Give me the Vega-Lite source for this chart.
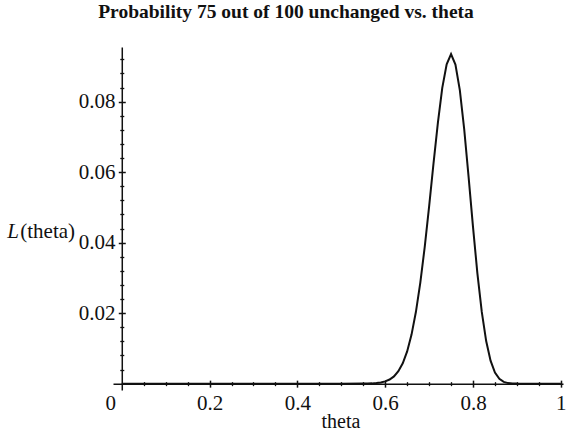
{
  "$schema": "https://vega.github.io/schema/vega-lite/v6.json",
  "autosize": "none",
  "width": 450,
  "height": 343,
  "padding": {"left": 113, "top": 47, "right": 5, "bottom": 44},
  "background": "white",
  "title": {
    "text": "Probability 75 out of 100 unchanged vs. theta",
    "font": "Liberation Serif",
    "fontSize": 19.5,
    "fontWeight": "bold",
    "color": "#111",
    "anchor": "middle",
    "frame": "group",
    "dx": -52,
    "baseline": "alphabetic",
    "offset": 9.5
  },
  "data": {
    "values": [
      {"theta": 0, "L": 0},
      {"theta": 0.5, "L": 0},
      {"theta": 0.55, "L": 0.00002},
      {"theta": 0.56, "L": 0.00003},
      {"theta": 0.57, "L": 0.00008},
      {"theta": 0.58, "L": 0.00017},
      {"theta": 0.59, "L": 0.00033},
      {"theta": 0.6, "L": 0.00064},
      {"theta": 0.61, "L": 0.00117},
      {"theta": 0.62, "L": 0.00206},
      {"theta": 0.63, "L": 0.00352},
      {"theta": 0.64, "L": 0.00578},
      {"theta": 0.65, "L": 0.00913},
      {"theta": 0.66, "L": 0.01391},
      {"theta": 0.67, "L": 0.02038},
      {"theta": 0.68, "L": 0.02866},
      {"theta": 0.69, "L": 0.03873},
      {"theta": 0.7, "L": 0.05023},
      {"theta": 0.71, "L": 0.0624},
      {"theta": 0.72, "L": 0.07396},
      {"theta": 0.73, "L": 0.0839},
      {"theta": 0.74, "L": 0.0906},
      {"theta": 0.75, "L": 0.0935},
      {"theta": 0.76, "L": 0.0905},
      {"theta": 0.77, "L": 0.08325},
      {"theta": 0.78, "L": 0.07212},
      {"theta": 0.79, "L": 0.0586},
      {"theta": 0.8, "L": 0.04446},
      {"theta": 0.81, "L": 0.0313},
      {"theta": 0.82, "L": 0.02034},
      {"theta": 0.83, "L": 0.01209},
      {"theta": 0.84, "L": 0.00652},
      {"theta": 0.85, "L": 0.00315},
      {"theta": 0.86, "L": 0.00135},
      {"theta": 0.87, "L": 0.0005},
      {"theta": 0.88, "L": 0.00016},
      {"theta": 0.89, "L": 0.00004},
      {"theta": 0.9, "L": 0.00001},
      {"theta": 0.95, "L": 0},
      {"theta": 1, "L": 0}
    ]
  },
  "layer": [
    {
      "mark": {"type": "line", "color": "#111", "strokeWidth": 2, "clip": false},
      "encoding": {
        "x": {
          "field": "theta", "type": "quantitative",
          "scale": {"domain": [-0.02, 1.005], "nice": false, "zero": false},
          "axis": {
            "orient": "bottom", "offset": -6.35, "values": [0.2, 0.4, 0.6, 0.8, 1], "format": "~g",
            "ticks": false, "labelFlush": false, "labelPadding": 8.5, "labelFont": "Liberation Serif", "labelFontSize": 21,
            "labelColor": "#111", "domainColor": "#111", "domainWidth": 1.5, "grid": false,
            "title": "theta", "titleFont": "Liberation Serif", "titleFontSize": 20, "titleFontWeight": "normal",
            "titleColor": "#111", "titleX": 227.5, "titleY": 44, "titleBaseline": "alphabetic", "titleAlign": "center"
          }
        },
        "y": {
          "field": "L", "type": "quantitative",
          "scale": {"domain": [-0.0018, 0.0955], "nice": false, "zero": false},
          "axis": {
            "orient": "left", "offset": -8.78, "values": [0.02, 0.04, 0.06, 0.08], "format": "~g",
            "ticks": false, "labelFlush": false, "labelPadding": 6.7, "labelFont": "Liberation Serif", "labelFontSize": 21,
            "labelColor": "#111", "domainColor": "#111", "domainWidth": 1.5, "grid": false,
            "title": "(theta)", "titleFont": "Liberation Serif", "titleFontSize": 21, "titleFontWeight": "normal",
            "titleColor": "#111", "titleAngle": 0, "titleAlign": "left", "titleBaseline": "alphabetic",
            "titleX": -102, "titleY": 190
          }
        }
      }
    },
    {
      "mark": {"type": "line", "opacity": 0},
      "encoding": {
        "x": {
          "field": "theta", "type": "quantitative",
          "axis": {
            "orient": "bottom", "offset": -9.85, "values": [0.2, 0.4, 0.6, 0.8, 1],
            "tickSize": 7, "tickWidth": 1.5, "tickColor": "#111", "labels": false, "domain": false, "grid": false, "title": null
          }
        },
        "y": {
          "field": "L", "type": "quantitative",
          "axis": {
            "orient": "left", "offset": -12.28, "values": [0.02, 0.04, 0.06, 0.08],
            "tickSize": 7, "tickWidth": 1.5, "tickColor": "#111", "labels": false, "domain": false, "grid": false, "title": null
          }
        }
      }
    },
    {
      "mark": {"type": "line", "opacity": 0},
      "encoding": {
        "x": {
          "field": "theta", "type": "quantitative",
          "axis": {
            "orient": "bottom", "offset": -8.35,
            "values": [0.05, 0.1, 0.15, 0.25, 0.3, 0.35, 0.45, 0.5, 0.55, 0.65, 0.7, 0.75, 0.85, 0.9, 0.95],
            "tickSize": 4, "tickWidth": 1.3, "tickColor": "#111", "labels": false, "domain": false, "grid": false, "title": null
          }
        },
        "y": {
          "field": "L", "type": "quantitative",
          "axis": {
            "orient": "left", "offset": -10.78,
            "values": [0.004, 0.008, 0.012, 0.016, 0.024, 0.028, 0.032, 0.036, 0.044, 0.048, 0.052, 0.056, 0.064, 0.068, 0.072, 0.076, 0.084, 0.088, 0.092],
            "tickSize": 4, "tickWidth": 1.3, "tickColor": "#111", "labels": false, "domain": false, "grid": false, "title": null
          }
        }
      }
    },
    {
      "mark": {"type": "line", "opacity": 0},
      "encoding": {
        "x": {
          "field": "theta", "type": "quantitative",
          "axis": {
            "orient": "bottom", "offset": -6.35, "values": [0], "format": "~g",
            "ticks": false, "domain": false, "grid": false, "title": null, "labelFlush": false,
            "labelPadding": 8.5, "labelFont": "Liberation Serif", "labelFontSize": 21, "labelColor": "#111",
            "labelAlign": "center", "labelOffset": -11.5
          }
        },
        "y": {
          "field": "L", "type": "quantitative",
          "axis": {
            "orient": "left", "offset": -8.78, "values": [],
            "ticks": false, "labels": false, "domain": false, "grid": false,
            "title": "L", "titleFont": "Liberation Serif", "titleFontSize": 21, "titleFontWeight": "normal",
            "titleFontStyle": "italic", "titleColor": "#111", "titleAngle": 0, "titleAlign": "left",
            "titleBaseline": "alphabetic", "titleX": -115, "titleY": 190
          }
        }
      }
    }
  ],
  "resolve": {"axis": {"x": "independent", "y": "independent"}},
  "config": {"view": {"stroke": null}}
}
